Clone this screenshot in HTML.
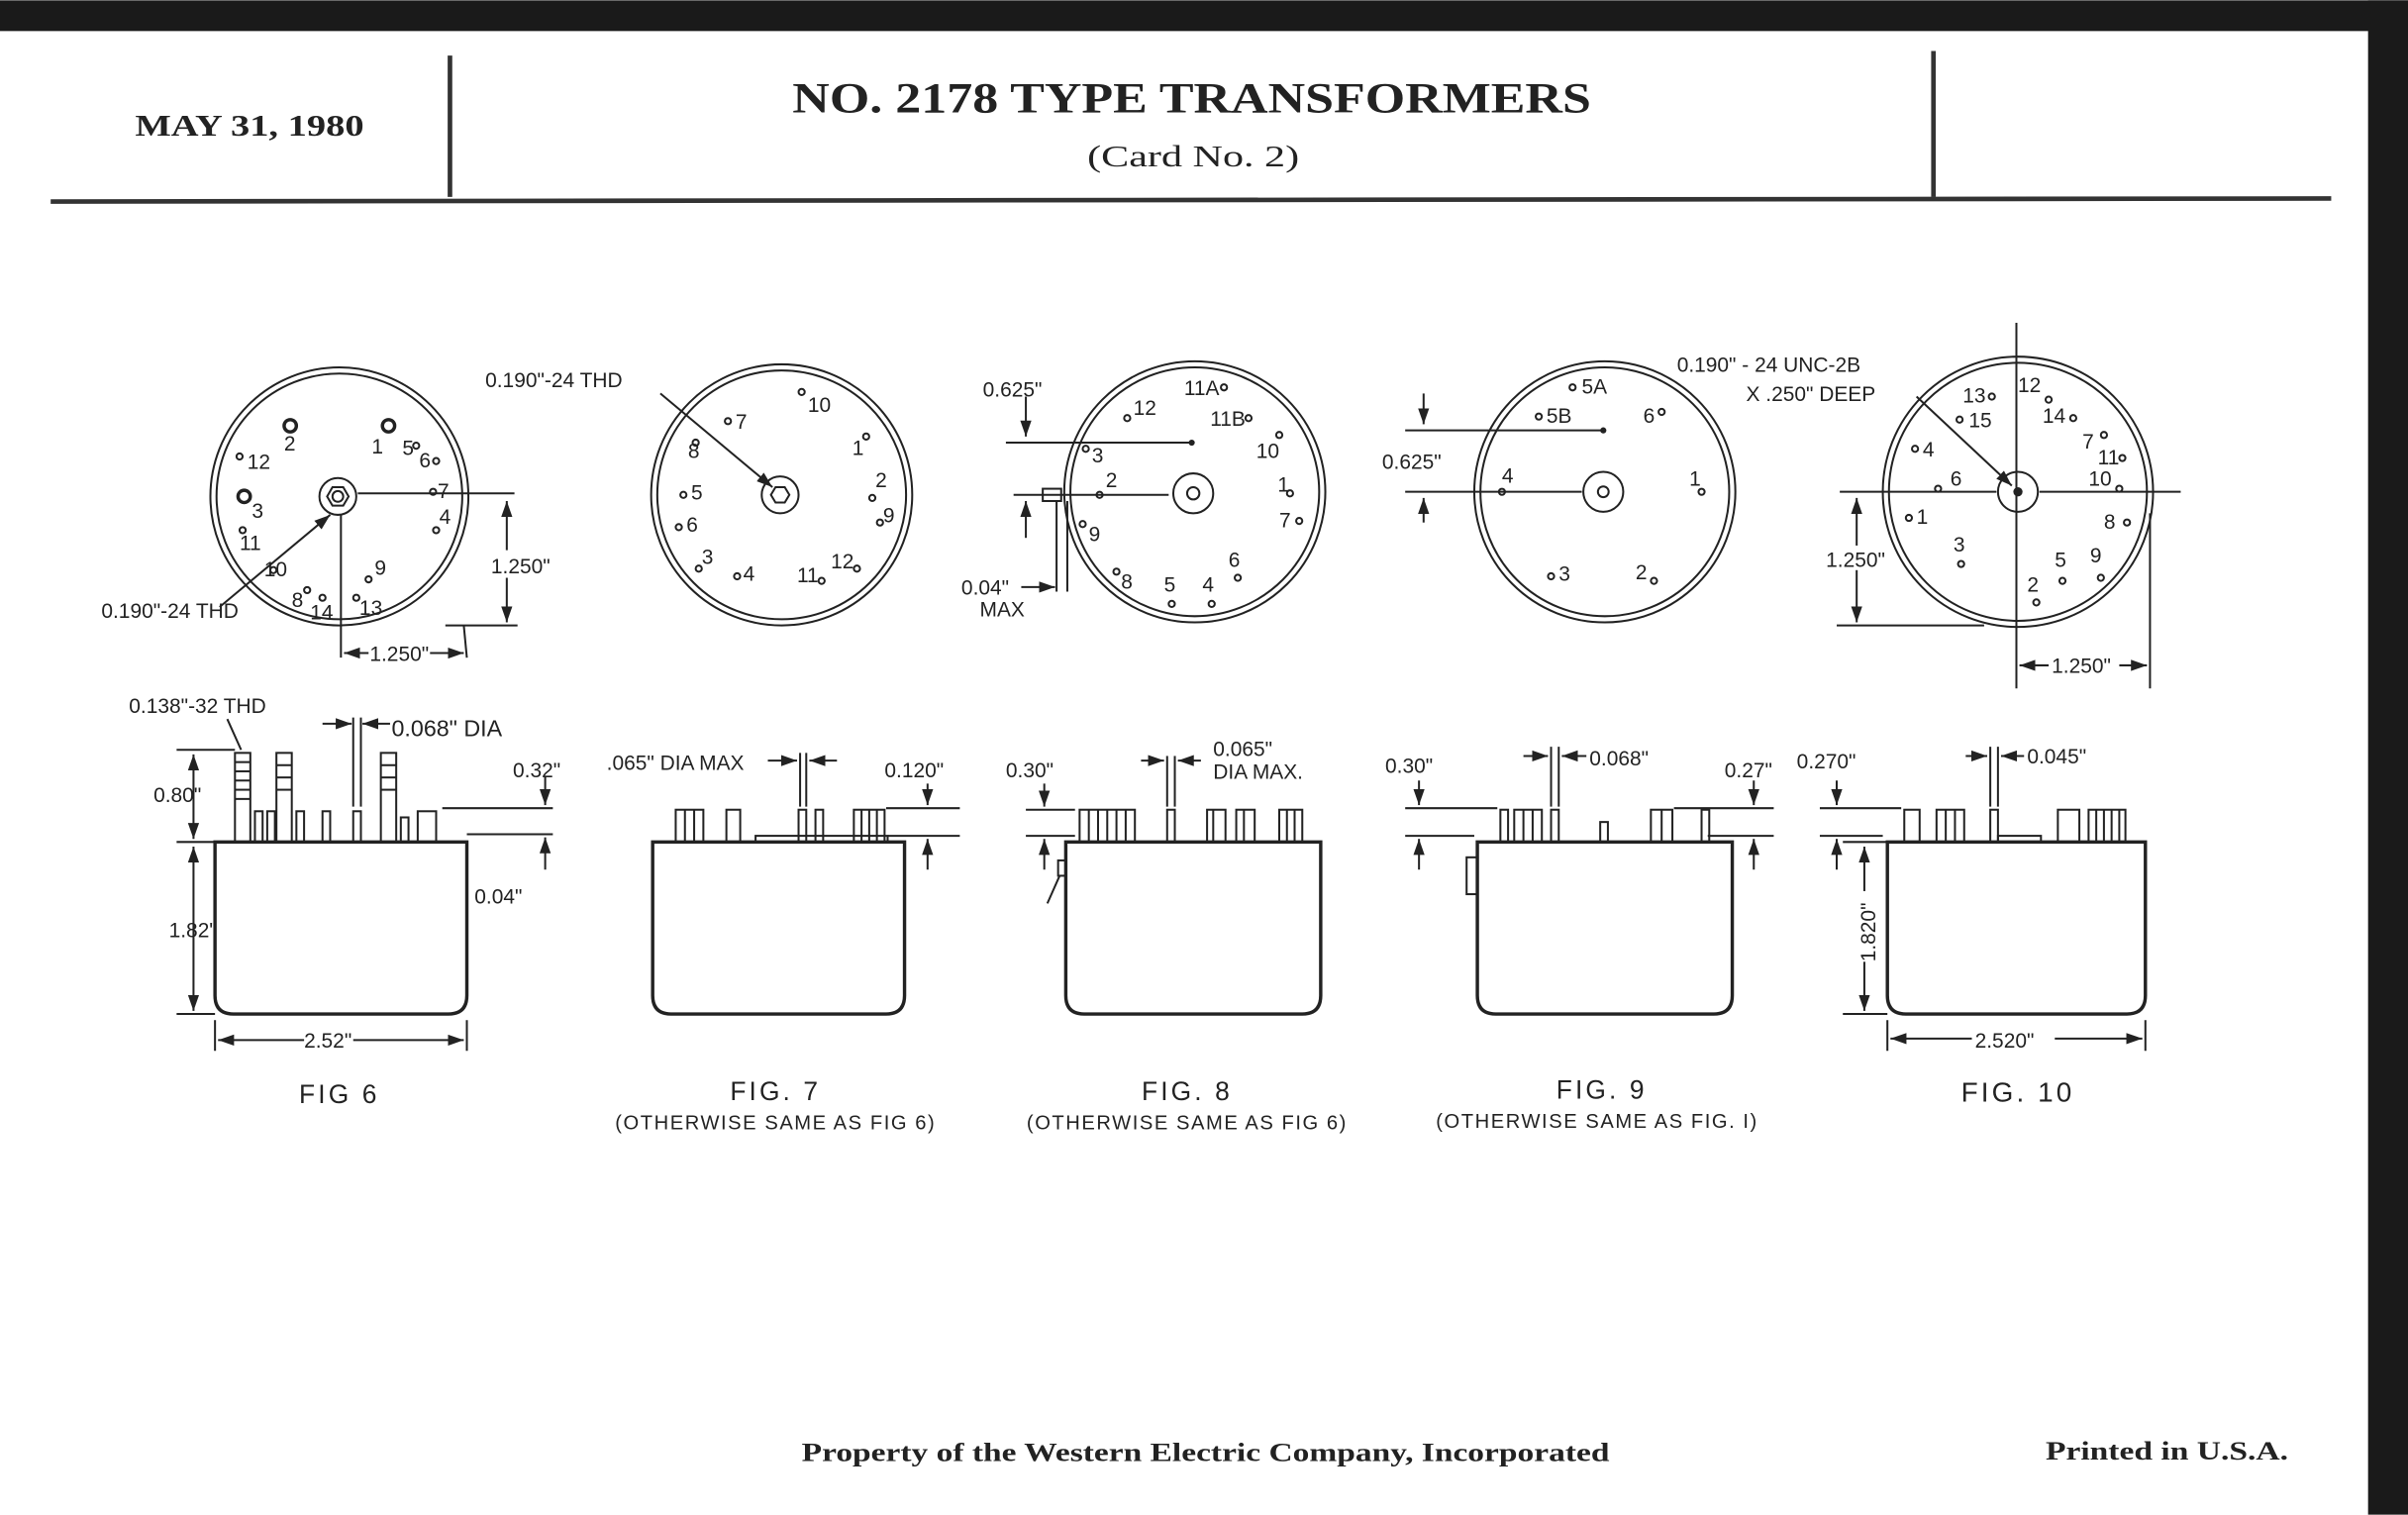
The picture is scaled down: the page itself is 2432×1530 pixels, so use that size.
<!DOCTYPE html>
<html><head><meta charset="utf-8"><style>
html,body{margin:0;padding:0;background:#fff;}
svg{display:block;}
text{font-family:"Liberation Sans",sans-serif;fill:#222;}
.s{font-size:13.5px;}
.t{font-family:"Liberation Serif",serif;font-weight:bold;}
.l{stroke:#222;fill:none;stroke-width:1.3;}
.h{stroke:#222;fill:none;stroke-width:2.2;}
</style></head><body>
<svg width="2432" height="1530" viewBox="0 0 1568 986" xmlns="http://www.w3.org/2000/svg">
<defs>
<marker id="a" viewBox="0 0 10 10" refX="10" refY="5" markerWidth="8" markerHeight="8" orient="auto-start-reverse"><path d="M0,1.5 L10,5 L0,8.5z" fill="#222"/></marker>
</defs>
<rect x="0" y="0" width="1568" height="986" fill="#fff"/>
<rect x="0" y="0" width="1568" height="20" fill="#1a1a1a"/>
<rect x="1542" y="0" width="26" height="986" fill="#1a1a1a"/>
<!-- header -->
<line x1="33" y1="131" x2="1518" y2="129" stroke="#333" stroke-width="3"/>
<line x1="293" y1="36" x2="293" y2="128" stroke="#333" stroke-width="3"/>
<line x1="1259" y1="33" x2="1259" y2="128" stroke="#333" stroke-width="3"/>
<text x="88" y="88" class="t" font-size="20" textLength="149" lengthAdjust="spacingAndGlyphs">MAY 31, 1980</text>
<text x="516" y="73" class="t" font-size="28" textLength="520" lengthAdjust="spacingAndGlyphs">NO. 2178 TYPE TRANSFORMERS</text>
<text x="708" y="108" font-size="20" style="font-family:'Liberation Serif',serif" textLength="138" lengthAdjust="spacingAndGlyphs">(Card No. 2)</text>

<!-- FIG 6 top -->
<circle cx="221" cy="323" r="84" class="l"/><circle cx="221" cy="323" r="80" class="l"/>
<circle cx="220" cy="323" r="12" class="l"/><polygon points="227,323 223.5,329 216.5,329 213,323 216.5,317 223.5,317" class="l"/><circle cx="220" cy="323" r="3.5" class="l"/>
<line x1="233" y1="321" x2="335" y2="321" class="l"/><line x1="222" y1="335" x2="222" y2="428" class="l"/>
<line x1="302" y1="407" x2="304" y2="428" class="l"/><line x1="290" y1="407" x2="337" y2="407" class="l"/>
<line x1="330" y1="326" x2="330" y2="405" class="l" marker-start="url(#a)" marker-end="url(#a)"/>
<line x1="224" y1="425" x2="302" y2="425" class="l" marker-start="url(#a)" marker-end="url(#a)"/>
<rect x="240" y="418" width="40" height="14" fill="#fff"/><text x="260" y="430" class="s" text-anchor="middle">1.250"</text>
<rect x="318" y="358" width="40" height="18" fill="#fff"/><text x="339" y="373" class="s" text-anchor="middle">1.250"</text>
<line x1="143" y1="395" x2="215" y2="335" class="l" marker-end="url(#a)"/>
<text x="66" y="402" class="s">0.190"-24 THD</text>
<g class="s">
<circle cx="189" cy="277" r="4" class="h"/><text x="185" y="293">2</text>
<circle cx="253" cy="277" r="4" class="h"/><text x="242" y="295">1</text><text x="262" y="296">5</text><circle cx="271" cy="290" r="2" class="l"/>
<text x="273" y="304">6</text><circle cx="284" cy="300" r="2" class="l"/>
<circle cx="156" cy="297" r="2" class="l"/><text x="161" y="305">12</text>
<circle cx="159" cy="323" r="4" class="h"/><text x="164" y="337">3</text>
<text x="285" y="324">7</text><circle cx="282" cy="320" r="2" class="l"/>
<text x="286" y="341">4</text><circle cx="284" cy="345" r="2" class="l"/>
<circle cx="158" cy="345" r="2" class="l"/><text x="156" y="358">11</text>
<circle cx="178" cy="371" r="2" class="l"/><text x="172" y="375">10</text>
<circle cx="200" cy="384" r="2" class="l"/><text x="190" y="395">8</text>
<circle cx="210" cy="389" r="2" class="l"/><text x="202" y="403">14</text>
<circle cx="232" cy="389" r="2" class="l"/><text x="234" y="400">13</text>
<text x="244" y="374">9</text><circle cx="240" cy="377" r="2" class="l"/>
</g>

<!-- FIG 7 top -->
<circle cx="509" cy="322" r="85" class="l"/><circle cx="509" cy="322" r="81" class="l"/>
<circle cx="508" cy="322" r="12" class="l"/><polygon points="514,322 511,327 505,327 502,322 505,317 511,317" class="l"/>
<line x1="430" y1="256" x2="503" y2="317" class="l" marker-end="url(#a)"/>
<text x="316" y="252" class="s">0.190"-24 THD</text>
<g class="s">
<text x="526" y="268">10</text><circle cx="522" cy="255" r="2" class="l"/>
<circle cx="474" cy="274" r="2" class="l"/><text x="479" y="279">7</text>
<circle cx="453" cy="288" r="2" class="l"/><text x="448" y="298">8</text>
<text x="555" y="296">1</text><circle cx="564" cy="284" r="2" class="l"/>
<text x="570" y="317">2</text><circle cx="568" cy="324" r="2" class="l"/>
<text x="575" y="340">9</text><circle cx="573" cy="340" r="2" class="l"/>
<circle cx="445" cy="322" r="2" class="l"/><text x="450" y="325">5</text>
<circle cx="442" cy="343" r="2" class="l"/><text x="447" y="346">6</text>
<circle cx="455" cy="370" r="2" class="l"/><text x="457" y="367">3</text>
<circle cx="480" cy="375" r="2" class="l"/><text x="484" y="378">4</text>
<text x="519" y="379">11</text><circle cx="535" cy="378" r="2" class="l"/>
<text x="541" y="370">12</text><circle cx="558" cy="370" r="2" class="l"/>
</g>

<!-- FIG 8 top -->
<circle cx="778" cy="320" r="85" class="l"/><circle cx="778" cy="320" r="81" class="l"/>
<circle cx="777" cy="321" r="13" class="l"/><circle cx="777" cy="321" r="4" class="l"/>
<line x1="655" y1="288" x2="775" y2="288" class="l"/><circle cx="776" cy="288" r="2" fill="#222"/>
<line x1="660" y1="322" x2="761" y2="322" class="l"/>
<line x1="668" y1="258" x2="668" y2="284" class="l" marker-end="url(#a)"/><line x1="668" y1="350" x2="668" y2="326" class="l" marker-end="url(#a)"/>
<text x="640" y="258" class="s">0.625"</text>
<rect x="679" y="318" width="12" height="8" class="l"/>
<line x1="688" y1="326" x2="688" y2="385" class="l"/><line x1="695" y1="326" x2="695" y2="385" class="l"/>
<line x1="665" y1="382" x2="687" y2="382" class="l" marker-end="url(#a)"/>
<text x="626" y="387" class="s">0.04"</text><text x="638" y="401" class="s" font-size="12">MAX</text>
<g class="s">
<text x="771" y="257">11A</text><circle cx="797" cy="252" r="2" class="l"/>
<text x="738" y="270">12</text><circle cx="734" cy="272" r="2" class="l"/>
<text x="788" y="277">11B</text><circle cx="813" cy="272" r="2" class="l"/>
<text x="818" y="298">10</text><circle cx="833" cy="283" r="2" class="l"/>
<circle cx="707" cy="292" r="2" class="l"/><text x="711" y="301">3</text>
<text x="720" y="317">2</text><circle cx="716" cy="322" r="2" class="l"/>
<text x="832" y="320">1</text><circle cx="840" cy="321" r="2" class="l"/>
<text x="833" y="343">7</text><circle cx="846" cy="339" r="2" class="l"/>
<circle cx="705" cy="341" r="2" class="l"/><text x="709" y="352">9</text>
<circle cx="727" cy="372" r="2" class="l"/><text x="730" y="383">8</text>
<text x="758" y="385">5</text><circle cx="763" cy="393" r="2" class="l"/>
<text x="783" y="385">4</text><circle cx="789" cy="393" r="2" class="l"/>
<text x="800" y="369">6</text><circle cx="806" cy="376" r="2" class="l"/>
</g>

<!-- FIG 9 top -->
<circle cx="1045" cy="320" r="85" class="l"/><circle cx="1045" cy="320" r="81" class="l"/>
<circle cx="1044" cy="320" r="13" class="l"/><circle cx="1044" cy="320" r="3.5" class="l"/>
<line x1="915" y1="280" x2="1043" y2="280" class="l"/><circle cx="1044" cy="280" r="2" fill="#222"/>
<line x1="915" y1="320" x2="1030" y2="320" class="l"/>
<line x1="927" y1="256" x2="927" y2="276" class="l" marker-end="url(#a)"/><line x1="927" y1="340" x2="927" y2="324" class="l" marker-end="url(#a)"/>
<text x="900" y="305" class="s">0.625"</text>
<g class="s">
<circle cx="1024" cy="252" r="2" class="l"/><text x="1030" y="256">5A</text>
<circle cx="1002" cy="271" r="2" class="l"/><text x="1007" y="275">5B</text>
<text x="1070" y="275">6</text><circle cx="1082" cy="268" r="2" class="l"/>
<text x="978" y="314">4</text><circle cx="978" cy="320" r="2" class="l"/>
<text x="1100" y="316">1</text><circle cx="1108" cy="320" r="2" class="l"/>
<circle cx="1010" cy="375" r="2" class="l"/><text x="1015" y="378">3</text>
<text x="1065" y="377">2</text><circle cx="1077" cy="378" r="2" class="l"/>
</g>

<!-- FIG 10 top -->
<circle cx="1314" cy="320" r="88" class="l"/><circle cx="1314" cy="320" r="84" class="l"/>
<circle cx="1314" cy="320" r="13" class="l"/><circle cx="1314" cy="320" r="3" fill="#222"/>
<line x1="1313" y1="210" x2="1313" y2="448" class="l"/>
<line x1="1198" y1="320" x2="1300" y2="320" class="l"/><line x1="1328" y1="320" x2="1420" y2="320" class="l"/>
<line x1="1196" y1="407" x2="1292" y2="407" class="l"/>
<line x1="1209" y1="324" x2="1209" y2="405" class="l" marker-start="url(#a)" marker-end="url(#a)"/>
<rect x="1188" y="355" width="44" height="16" fill="#fff"/><text x="1189" y="369" class="s">1.250"</text>
<line x1="1400" y1="334" x2="1400" y2="448" class="l"/>
<line x1="1315" y1="433" x2="1398" y2="433" class="l" marker-start="url(#a)" marker-end="url(#a)"/>
<rect x="1334" y="426" width="46" height="14" fill="#fff"/><text x="1336" y="438" class="s">1.250"</text>
<line x1="1248" y1="258" x2="1310" y2="316" class="l" marker-end="url(#a)"/>
<text x="1092" y="242" class="s" font-size="14.5">0.190" - 24 UNC-2B</text>
<text x="1137" y="261" class="s" font-size="14.5">X .250" DEEP</text>
<g class="s">
<text x="1278" y="262">13</text><circle cx="1297" cy="258" r="2" class="l"/>
<text x="1314" y="255">12</text><circle cx="1334" cy="260" r="2" class="l"/>
<circle cx="1276" cy="273" r="2" class="l"/><text x="1282" y="278">15</text>
<text x="1330" y="275">14</text><circle cx="1350" cy="272" r="2" class="l"/>
<text x="1356" y="292">7</text><circle cx="1370" cy="283" r="2" class="l"/>
<text x="1366" y="302">11</text><circle cx="1382" cy="298" r="2" class="l"/>
<circle cx="1247" cy="292" r="2" class="l"/><text x="1252" y="297">4</text>
<text x="1270" y="316">6</text><circle cx="1262" cy="318" r="2" class="l"/>
<text x="1360" y="316">10</text><circle cx="1380" cy="318" r="2" class="l"/>
<circle cx="1243" cy="337" r="2" class="l"/><text x="1248" y="341">1</text>
<text x="1370" y="344">8</text><circle cx="1385" cy="340" r="2" class="l"/>
<text x="1272" y="359">3</text><circle cx="1277" cy="367" r="2" class="l"/>
<text x="1338" y="369">5</text><circle cx="1343" cy="378" r="2" class="l"/>
<text x="1361" y="366">9</text><circle cx="1368" cy="376" r="2" class="l"/>
<text x="1320" y="385">2</text><circle cx="1326" cy="392" r="2" class="l"/>
</g>

<!-- side views -->
<g class="h">
<path d="M140,548 L304,548 L304,648 Q304,660 292,660 L152,660 Q140,660 140,648 Z"/>
<path d="M425,548 L589,548 L589,648 Q589,660 577,660 L437,660 Q425,660 425,648 Z"/>
<path d="M694,548 L860,548 L860,648 Q860,660 848,660 L706,660 Q694,660 694,648 Z"/>
<path d="M962,548 L1128,548 L1128,648 Q1128,660 1116,660 L974,660 Q962,660 962,648 Z"/>
<path d="M1229,548 L1397,548 L1397,648 Q1397,660 1385,660 L1241,660 Q1229,660 1229,648 Z"/>
</g>
<!-- fig6 terminals -->
<g class="l">
<rect x="153" y="490" width="10" height="58"/><rect x="180" y="490" width="10" height="58"/><rect x="248" y="490" width="10" height="58"/>
<line x1="153" y1="496" x2="163" y2="496"/><line x1="153" y1="502" x2="163" y2="502"/><line x1="153" y1="508" x2="163" y2="508"/><line x1="153" y1="514" x2="163" y2="514"/><line x1="153" y1="520" x2="163" y2="520"/>
<line x1="180" y1="498" x2="190" y2="498"/><line x1="180" y1="506" x2="190" y2="506"/><line x1="180" y1="514" x2="190" y2="514"/><line x1="248" y1="498" x2="258" y2="498"/><line x1="248" y1="506" x2="258" y2="506"/><line x1="248" y1="514" x2="258" y2="514"/>
<rect x="166" y="528" width="5" height="20"/><rect x="174" y="528" width="5" height="20"/><rect x="193" y="528" width="5" height="20"/><rect x="210" y="528" width="5" height="20"/><rect x="230" y="528" width="5" height="20"/><rect x="272" y="528" width="12" height="20"/><rect x="261" y="532" width="5" height="16"/>
<line x1="304" y1="543" x2="360" y2="543"/><line x1="288" y1="526" x2="360" y2="526"/>
<line x1="230" y1="467" x2="230" y2="525"/><line x1="235" y1="467" x2="235" y2="525"/>
<line x1="115" y1="488" x2="153" y2="488"/><line x1="115" y1="548" x2="140" y2="548"/><line x1="115" y1="660" x2="140" y2="660"/>
<line x1="140" y1="664" x2="140" y2="684"/><line x1="304" y1="664" x2="304" y2="684"/>
</g>
<line x1="126" y1="491" x2="126" y2="546" class="l" marker-start="url(#a)" marker-end="url(#a)"/>
<line x1="126" y1="551" x2="126" y2="658" class="l" marker-start="url(#a)" marker-end="url(#a)"/>
<line x1="142" y1="677" x2="302" y2="677" class="l" marker-start="url(#a)" marker-end="url(#a)"/>
<line x1="355" y1="505" x2="355" y2="524" class="l" marker-end="url(#a)"/><line x1="355" y1="566" x2="355" y2="545" class="l" marker-end="url(#a)"/>
<line x1="210" y1="471" x2="229" y2="471" class="l" marker-end="url(#a)"/><line x1="254" y1="471" x2="236" y2="471" class="l" marker-end="url(#a)"/>
<g class="s">
<text x="84" y="464">0.138"-32 THD</text><line x1="148" y1="468" x2="157" y2="488" class="l"/>
<text x="255" y="479" font-size="15">0.068" DIA</text>
<text x="334" y="506">0.32"</text><text x="309" y="588">0.04"</text>
<text x="100" y="522">0.80"</text><text x="110" y="610">1.82"</text>
<rect x="198" y="670" width="32" height="14" fill="#fff"/><text x="198" y="682">2.52"</text>
</g>
<text x="221" y="718" font-size="17" text-anchor="middle" letter-spacing="2">FIG 6</text>

<!-- fig7 terminals -->
<g class="l">
<rect x="440" y="527" width="18" height="21"/><line x1="446" y1="527" x2="446" y2="548"/><line x1="452" y1="527" x2="452" y2="548"/>
<rect x="473" y="527" width="9" height="21"/>
<rect x="520" y="527" width="5" height="21"/><rect x="531" y="527" width="5" height="21"/>
<rect x="556" y="527" width="20" height="21"/><line x1="561" y1="527" x2="561" y2="548"/><line x1="566" y1="527" x2="566" y2="548"/><line x1="571" y1="527" x2="571" y2="548"/>
<rect x="492" y="544" width="86" height="4"/>
<line x1="521" y1="490" x2="521" y2="525"/><line x1="525" y1="490" x2="525" y2="525"/>
<line x1="577" y1="526" x2="625" y2="526"/><line x1="578" y1="544" x2="625" y2="544"/>
</g>
<line x1="500" y1="495" x2="519" y2="495" class="l" marker-end="url(#a)"/><line x1="545" y1="495" x2="527" y2="495" class="l" marker-end="url(#a)"/>
<line x1="604" y1="510" x2="604" y2="524" class="l" marker-end="url(#a)"/><line x1="604" y1="566" x2="604" y2="546" class="l" marker-end="url(#a)"/>
<text x="395" y="501" class="s">.065" DIA MAX</text><text x="576" y="506" class="s">0.120"</text>
<text x="505" y="716" font-size="17" text-anchor="middle" letter-spacing="2">FIG. 7</text>
<text x="505" y="735" font-size="13" text-anchor="middle" letter-spacing="1">(OTHERWISE SAME AS FIG 6)</text>

<!-- fig8 terminals -->
<g class="l">
<rect x="703" y="527" width="36" height="21"/><line x1="709" y1="527" x2="709" y2="548"/><line x1="715" y1="527" x2="715" y2="548"/><line x1="721" y1="527" x2="721" y2="548"/><line x1="727" y1="527" x2="727" y2="548"/><line x1="733" y1="527" x2="733" y2="548"/>
<rect x="760" y="527" width="5" height="21"/>
<rect x="786" y="527" width="12" height="21"/><rect x="805" y="527" width="12" height="21"/><rect x="833" y="527" width="15" height="21"/>
<line x1="790" y1="527" x2="790" y2="548"/><line x1="810" y1="527" x2="810" y2="548"/><line x1="838" y1="527" x2="838" y2="548"/><line x1="843" y1="527" x2="843" y2="548"/>
<line x1="760" y1="492" x2="760" y2="525"/><line x1="765" y1="492" x2="765" y2="525"/>
<line x1="668" y1="527" x2="700" y2="527"/><line x1="668" y1="544" x2="700" y2="544"/>
<rect x="689" y="560" width="5" height="10"/><line x1="690" y1="570" x2="682" y2="588"/>
</g>
<line x1="743" y1="495" x2="758" y2="495" class="l" marker-end="url(#a)"/><line x1="782" y1="495" x2="767" y2="495" class="l" marker-end="url(#a)"/>
<line x1="680" y1="510" x2="680" y2="525" class="l" marker-end="url(#a)"/><line x1="680" y1="566" x2="680" y2="546" class="l" marker-end="url(#a)"/>
<text x="655" y="506" class="s">0.30"</text>
<text x="790" y="492" class="s">0.065"</text><text x="790" y="507" class="s">DIA MAX.</text>
<text x="773" y="716" font-size="17" text-anchor="middle" letter-spacing="2">FIG. 8</text>
<text x="773" y="735" font-size="13" text-anchor="middle" letter-spacing="1">(OTHERWISE SAME AS FIG 6)</text>

<!-- fig9 terminals -->
<g class="l">
<rect x="977" y="527" width="5" height="21"/><rect x="986" y="527" width="18" height="21"/><line x1="992" y1="527" x2="992" y2="548"/><line x1="998" y1="527" x2="998" y2="548"/>
<rect x="1010" y="527" width="5" height="21"/><rect x="1042" y="535" width="5" height="13"/>
<rect x="1075" y="527" width="14" height="21"/><line x1="1082" y1="527" x2="1082" y2="548"/><rect x="1108" y="527" width="5" height="21"/>
<rect x="955" y="558" width="7" height="24"/>
<line x1="1010" y1="486" x2="1010" y2="525"/><line x1="1015" y1="486" x2="1015" y2="525"/>
<line x1="915" y1="526" x2="975" y2="526"/><line x1="915" y1="544" x2="960" y2="544"/>
<line x1="1090" y1="526" x2="1155" y2="526"/><line x1="1112" y1="544" x2="1155" y2="544"/>
</g>
<line x1="992" y1="492" x2="1008" y2="492" class="l" marker-end="url(#a)"/><line x1="1033" y1="492" x2="1017" y2="492" class="l" marker-end="url(#a)"/>
<line x1="924" y1="508" x2="924" y2="524" class="l" marker-end="url(#a)"/><line x1="924" y1="566" x2="924" y2="546" class="l" marker-end="url(#a)"/>
<line x1="1142" y1="508" x2="1142" y2="524" class="l" marker-end="url(#a)"/><line x1="1142" y1="566" x2="1142" y2="546" class="l" marker-end="url(#a)"/>
<text x="902" y="503" class="s">0.30"</text><text x="1035" y="498" class="s" font-size="15">0.068"</text>
<text x="1123" y="506" class="s">0.27"</text>
<text x="1043" y="715" font-size="17" text-anchor="middle" letter-spacing="2">FIG. 9</text>
<text x="1040" y="734" font-size="13" text-anchor="middle" letter-spacing="1">(OTHERWISE SAME AS FIG. I)</text>

<!-- fig10 terminals -->
<g class="l">
<rect x="1240" y="527" width="10" height="21"/><rect x="1261" y="527" width="18" height="21"/><line x1="1267" y1="527" x2="1267" y2="548"/><line x1="1273" y1="527" x2="1273" y2="548"/>
<rect x="1296" y="527" width="5" height="21"/>
<rect x="1340" y="527" width="14" height="21"/><rect x="1360" y="527" width="24" height="21"/><line x1="1365" y1="527" x2="1365" y2="548"/><line x1="1370" y1="527" x2="1370" y2="548"/><line x1="1375" y1="527" x2="1375" y2="548"/><line x1="1380" y1="527" x2="1380" y2="548"/>
<rect x="1301" y="544" width="28" height="4"/>
<line x1="1296" y1="486" x2="1296" y2="525"/><line x1="1301" y1="486" x2="1301" y2="525"/>
<line x1="1185" y1="526" x2="1238" y2="526"/><line x1="1185" y1="544" x2="1226" y2="544"/>
<line x1="1200" y1="548" x2="1229" y2="548"/><line x1="1200" y1="660" x2="1229" y2="660"/>
<line x1="1229" y1="664" x2="1229" y2="684"/><line x1="1397" y1="664" x2="1397" y2="684"/>
</g>
<line x1="1280" y1="492" x2="1294" y2="492" class="l" marker-end="url(#a)"/><line x1="1318" y1="492" x2="1303" y2="492" class="l" marker-end="url(#a)"/>
<line x1="1196" y1="508" x2="1196" y2="524" class="l" marker-end="url(#a)"/><line x1="1196" y1="566" x2="1196" y2="546" class="l" marker-end="url(#a)"/>
<line x1="1214" y1="551" x2="1214" y2="658" class="l" marker-start="url(#a)" marker-end="url(#a)"/>
<rect x="1206" y="580" width="18" height="46" fill="#fff"/>
<text transform="translate(1221,626) rotate(-90)" class="s" font-size="15">1.820"</text>
<line x1="1231" y1="676" x2="1395" y2="676" class="l" marker-start="url(#a)" marker-end="url(#a)"/>
<rect x="1284" y="668" width="54" height="16" fill="#fff"/><text x="1286" y="682" class="s" font-size="15">2.520"</text>
<text x="1170" y="500" class="s" font-size="15">0.270"</text><text x="1320" y="497" class="s" font-size="15">0.045"</text>
<text x="1314" y="717" font-size="18" text-anchor="middle" letter-spacing="2">FIG. 10</text>

<!-- footer -->
<text x="522" y="951" class="t" font-size="17" textLength="526" lengthAdjust="spacingAndGlyphs">Property of the Western Electric Company, Incorporated</text>
<text x="1332" y="950" class="t" font-size="17" textLength="158" lengthAdjust="spacingAndGlyphs">Printed in U.S.A.</text>
</svg>
</body></html>
